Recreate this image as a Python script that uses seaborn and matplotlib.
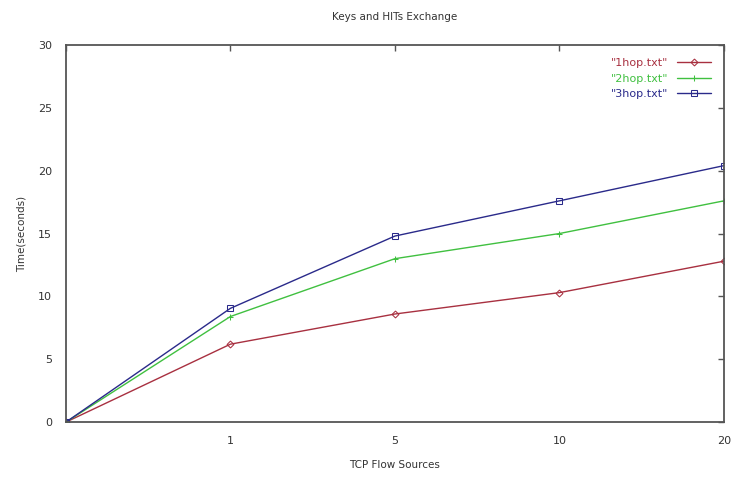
import pandas as pd
import matplotlib
matplotlib.use("Agg")
import matplotlib.pyplot as plt
import seaborn as sns

# data
sources = ["", "1", "5", "10", "20"]
hop1 = [0, 6.2, 8.6, 10.3, 12.8]
hop2 = [0, 8.4, 13.0, 15.0, 17.6]
hop3 = [0, 9.05, 14.8, 17.6, 20.4]
series_names = ['"1hop.txt"', '"2hop.txt"', '"3hop.txt"']

colors = ['#a83040', '#40c040', '#2a2a8a']
markers = ['D', '+', 's']
msizes = [3.5, 5, 5]

sns.set_style("white")
plt.rcParams['font.family'] = ['DejaVu Sans']

fig = plt.figure(figsize=(7.32, 4.83), dpi=100)
ax = fig.add_axes([0.090, 0.126, 0.899, 0.781])

positions = list(range(len(sources)))
for name, vals, c, m, ms in zip(series_names, [hop1, hop2, hop3], colors, markers, msizes):
    d = pd.DataFrame({"pos": positions, "time": vals})
    sns.lineplot(data=d, x="pos", y="time", color=c, marker=m, linewidth=1,
                 markersize=ms, markerfacecolor='none', markeredgecolor=c,
                 label=name, ax=ax)

ax.set_xlim(0, 4)
ax.set_ylim(0, 30)
ax.set_xticks(positions)
ax.set_xticklabels(sources)
ax.set_yticks([0, 5, 10, 15, 20, 25, 30])

txt = '#333333'
for s in ax.spines.values():
    s.set_visible(True)
    s.set_color('#555555')
    s.set_linewidth(1.3)
ax.tick_params(direction='in', length=4, width=1, color='#555555',
               labelsize=8, labelcolor=txt, top=True, right=True, pad=10)

ax.set_title("Keys and HITs Exchange", fontsize=7.5, color=txt, pad=18)
ax.set_xlabel("TCP Flow Sources", fontsize=7.5, color=txt, labelpad=10)
ax.set_ylabel("Time(seconds)", fontsize=7.5, color=txt, labelpad=8)

handles, labels = ax.get_legend_handles_labels()
leg = ax.legend(handles, labels, loc='upper right', frameon=False,
                markerfirst=False, fontsize=8, labelcolor='linecolor',
                handlelength=3, borderaxespad=0.8, labelspacing=0.5)

fig.savefig("out.png", dpi=100)
